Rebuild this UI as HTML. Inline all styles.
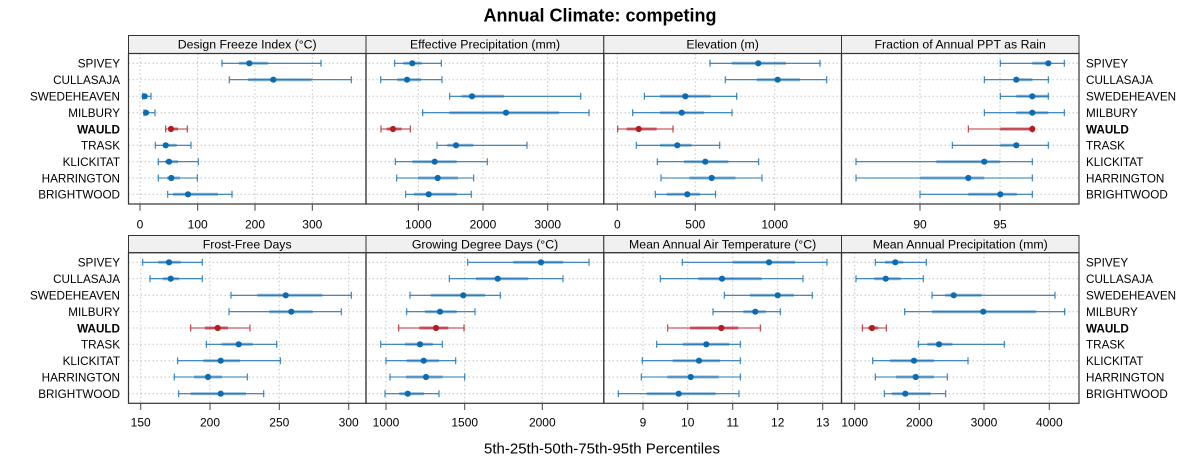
<!DOCTYPE html>
<html>
<head>
<meta charset="utf-8">
<style>
html,body{margin:0;padding:0;background:#fff;}
svg{display:block;font-family:"Liberation Sans",Arial,sans-serif;}
.w{stroke:#2a7bb9;stroke-width:1.1;fill:none;}
.q{stroke:#1a72b4;stroke-width:3;stroke-opacity:.5;fill:none;}
.m{fill:#0c6caf;}
.wr{stroke:#bb3338;stroke-width:1.1;fill:none;}
.qr{stroke:#b2182b;stroke-width:3;stroke-opacity:.6;fill:none;}
.mr{fill:#b21d22;}
.g{stroke:#c4c4c4;stroke-width:1;stroke-dasharray:1.5 2.5;fill:none;}
.tk{stroke:#444;stroke-width:1;}
.lab{font-size:11.7px;fill:#000;}
.tl{font-size:12px;fill:#000;text-anchor:middle;}
.st{font-size:12.3px;fill:#000;text-anchor:middle;}
</style>
</head>
<body>
<svg width="1200" height="475" viewBox="0 0 1200 475" xmlns="http://www.w3.org/2000/svg">
<rect width="1200" height="475" fill="#fff"/>
<text x="600" y="21.5" font-size="18" font-weight="bold" text-anchor="middle">Annual Climate: competing</text>

<!-- grid -->
<g class="g">
<path d="M128.5 63.3H1079M128.5 79.7H1079M128.5 96.3H1079M128.5 112.7H1079M128.5 129H1079M128.5 145.3H1079M128.5 161.7H1079M128.5 178H1079M128.5 194.3H1079"/>
<path d="M140 53.5V204M197.7 53.5V204M255 53.5V204M312.3 53.5V204M418.3 53.5V204M483 53.5V204M547.7 53.5V204M617.3 53.5V204M695.3 53.5V204M774.7 53.5V204M920 53.5V204M1000 53.5V204"/>
<path d="M128.5 262.3H1079M128.5 278.7H1079M128.5 295.3H1079M128.5 311.7H1079M128.5 328H1079M128.5 344.3H1079M128.5 360.7H1079M128.5 377H1079M128.5 393.7H1079"/>
<path d="M140.7 252.7V403.3M210 252.7V403.3M279.3 252.7V403.3M348.7 252.7V403.3M386 252.7V403.3M464.7 252.7V403.3M542.3 252.7V403.3M643 252.7V403.3M687.7 252.7V403.3M732.7 252.7V403.3M777.7 252.7V403.3M822.7 252.7V403.3M854.7 252.7V403.3M919.3 252.7V403.3M984 252.7V403.3M1049.3 252.7V403.3"/>
</g>

<!-- strips -->
<g stroke="#333" stroke-width="1" fill="#f0f0f0">
<rect x="128.5" y="35.5" width="237.5" height="18"/>
<rect x="366" y="35.5" width="237.8" height="18"/>
<rect x="603.8" y="35.5" width="237.7" height="18"/>
<rect x="841.5" y="35.5" width="237.5" height="18"/>
<rect x="128.5" y="235.5" width="237.5" height="17.2"/>
<rect x="366" y="235.5" width="237.8" height="17.2"/>
<rect x="603.8" y="235.5" width="237.7" height="17.2"/>
<rect x="841.5" y="235.5" width="237.5" height="17.2"/>
</g>
<g fill="none" stroke="#333" stroke-width="1.2">
<rect x="128.5" y="53.5" width="237.5" height="150.5"/>
<rect x="366" y="53.5" width="237.8" height="150.5"/>
<rect x="603.8" y="53.5" width="237.7" height="150.5"/>
<rect x="841.5" y="53.5" width="237.5" height="150.5"/>
<rect x="128.5" y="252.7" width="237.5" height="150.6"/>
<rect x="366" y="252.7" width="237.8" height="150.6"/>
<rect x="603.8" y="252.7" width="237.7" height="150.6"/>
<rect x="841.5" y="252.7" width="237.5" height="150.6"/>
</g>
<text class="st" x="247.2" y="48.6">Design Freeze Index (°C)</text>
<text class="st" x="485" y="48.6">Effective Precipitation (mm)</text>
<text class="st" x="722.6" y="48.6">Elevation (m)</text>
<text class="st" x="960.2" y="48.6">Fraction of Annual PPT as Rain</text>
<text class="st" x="247.2" y="248.3">Frost-Free Days</text>
<text class="st" x="485" y="248.3">Growing Degree Days (°C)</text>
<text class="st" x="722.6" y="248.3">Mean Annual Air Temperature (°C)</text>
<text class="st" x="960.2" y="248.3">Mean Annual Precipitation (mm)</text>

<!-- ticks -->
<path class="tk" d="M140 204V210.7M197.7 204V210.7M255 204V210.7M312.3 204V210.7M418.3 204V210.7M483 204V210.7M547.7 204V210.7M617.3 204V210.7M695.3 204V210.7M774.7 204V210.7M920 204V210.7M1000 204V210.7"/>
<path class="tk" d="M140.7 403.3V410M210 403.3V410M279.3 403.3V410M348.7 403.3V410M386 403.3V410M464.7 403.3V410M542.3 403.3V410M643 403.3V410M687.7 403.3V410M732.7 403.3V410M777.7 403.3V410M822.7 403.3V410M854.7 403.3V410M919.3 403.3V410M984 403.3V410M1049.3 403.3V410"/>
<g class="tl">
<text x="140" y="228.3">0</text><text x="197.7" y="228.3">100</text><text x="255" y="228.3">200</text><text x="312.3" y="228.3">300</text>
<text x="418.3" y="228.3">1000</text><text x="483" y="228.3">2000</text><text x="547.7" y="228.3">3000</text>
<text x="617.3" y="228.3">0</text><text x="695.3" y="228.3">500</text><text x="774.7" y="228.3">1000</text>
<text x="920" y="228.3">90</text><text x="1000" y="228.3">95</text>
<text x="140.7" y="426.5">150</text><text x="210" y="426.5">200</text><text x="279.3" y="426.5">250</text><text x="348.7" y="426.5">300</text>
<text x="386" y="426.5">1000</text><text x="464.7" y="426.5">1500</text><text x="542.3" y="426.5">2000</text>
<text x="643" y="426.5">9</text><text x="687.7" y="426.5">10</text><text x="732.7" y="426.5">11</text><text x="777.7" y="426.5">12</text><text x="822.7" y="426.5">13</text>
<text x="854.7" y="426.5">1000</text><text x="919.3" y="426.5">2000</text><text x="984" y="426.5">3000</text><text x="1049.3" y="426.5">4000</text>
</g>

<!-- row labels -->
<g class="lab" text-anchor="end">
<text x="120" y="67.6">SPIVEY</text><text x="120" y="84">CULLASAJA</text><text x="120" y="100.6">SWEDEHEAVEN</text><text x="120" y="117">MILBURY</text><text x="120" y="133.3" font-weight="bold">WAULD</text><text x="120" y="149.6">TRASK</text><text x="120" y="166">KLICKITAT</text><text x="120" y="182.3">HARRINGTON</text><text x="120" y="198.6">BRIGHTWOOD</text>
<text x="120" y="266.6">SPIVEY</text><text x="120" y="283">CULLASAJA</text><text x="120" y="299.6">SWEDEHEAVEN</text><text x="120" y="316">MILBURY</text><text x="120" y="332.3" font-weight="bold">WAULD</text><text x="120" y="348.6">TRASK</text><text x="120" y="365">KLICKITAT</text><text x="120" y="381.3">HARRINGTON</text><text x="120" y="398">BRIGHTWOOD</text>
</g>
<g class="lab" text-anchor="start">
<text x="1086" y="67.6">SPIVEY</text><text x="1086" y="84">CULLASAJA</text><text x="1086" y="100.6">SWEDEHEAVEN</text><text x="1086" y="117">MILBURY</text><text x="1086" y="133.3" font-weight="bold">WAULD</text><text x="1086" y="149.6">TRASK</text><text x="1086" y="166">KLICKITAT</text><text x="1086" y="182.3">HARRINGTON</text><text x="1086" y="198.6">BRIGHTWOOD</text>
<text x="1086" y="266.6">SPIVEY</text><text x="1086" y="283">CULLASAJA</text><text x="1086" y="299.6">SWEDEHEAVEN</text><text x="1086" y="316">MILBURY</text><text x="1086" y="332.3" font-weight="bold">WAULD</text><text x="1086" y="348.6">TRASK</text><text x="1086" y="365">KLICKITAT</text><text x="1086" y="381.3">HARRINGTON</text><text x="1086" y="398">BRIGHTWOOD</text>
</g>

<!-- TOP ROW BARS -->
<g transform="translate(0,63.3)">
<path class="w" d="M222 0H321M222-3.5V3.5M321-3.5V3.5"/><path class="q" d="M239 0H268"/><circle class="m" cx="249.3" r="3.1"/>
<path class="w" d="M394.7 0H441.3M394.7-3.5V3.5M441.3-3.5V3.5"/><path class="q" d="M403.3 0H421.7"/><circle class="m" cx="412.3" r="3.1"/>
<path class="w" d="M710 0H820M710-3.5V3.5M820-3.5V3.5"/><path class="q" d="M731.7 0H786"/><circle class="m" cx="758.3" r="3.1"/>
<path class="w" d="M1000.3 0H1064.3M1000.3-3.5V3.5M1064.3-3.5V3.5"/><path class="q" d="M1032.3 0H1048.3"/><circle class="m" cx="1048.3" r="3.1"/>
</g>
<g transform="translate(0,79.7)">
<path class="w" d="M229.3 0H351.3M229.3-3.5V3.5M351.3-3.5V3.5"/><path class="q" d="M248 0H311.7"/><circle class="m" cx="273.3" r="3.1"/>
<path class="w" d="M380.7 0H442M380.7-3.5V3.5M442-3.5V3.5"/><path class="q" d="M397.3 0H421"/><circle class="m" cx="407" r="3.1"/>
<path class="w" d="M725.3 0H826.7M725.3-3.5V3.5M826.7-3.5V3.5"/><path class="q" d="M756.7 0H800"/><circle class="m" cx="777.7" r="3.1"/>
<path class="w" d="M984.3 0H1048.3M984.3-3.5V3.5M1048.3-3.5V3.5"/><path class="q" d="M1016.3 0H1032.3"/><circle class="m" cx="1016.3" r="3.1"/>
</g>
<g transform="translate(0,96.3)">
<path class="w" d="M142.7 0H151M142.7-3.5V3.5M151-3.5V3.5"/><path class="q" d="M143.5 0H147"/><circle class="m" cx="144.7" r="3.1"/>
<path class="w" d="M449.7 0H580.7M449.7-3.5V3.5M580.7-3.5V3.5"/><path class="q" d="M461.7 0H504"/><circle class="m" cx="472" r="3.1"/>
<path class="w" d="M644.3 0H736.7M644.3-3.5V3.5M736.7-3.5V3.5"/><path class="q" d="M660 0H710.7"/><circle class="m" cx="685.3" r="3.1"/>
<path class="w" d="M1000.3 0H1048.3M1000.3-3.5V3.5M1048.3-3.5V3.5"/><path class="q" d="M1016.3 0H1048.3"/><circle class="m" cx="1032.3" r="3.1"/>
</g>
<g transform="translate(0,112.7)">
<path class="w" d="M144 0H155M144-3.5V3.5M155-3.5V3.5"/><path class="q" d="M144.5 0H149"/><circle class="m" cx="146" r="3.1"/>
<path class="w" d="M422.7 0H589M422.7-3.5V3.5M589-3.5V3.5"/><path class="q" d="M449.3 0H559"/><circle class="m" cx="506" r="3.1"/>
<path class="w" d="M632.7 0H732M632.7-3.5V3.5M732-3.5V3.5"/><path class="q" d="M660 0H704"/><circle class="m" cx="681.7" r="3.1"/>
<path class="w" d="M984.3 0H1064.3M984.3-3.5V3.5M1064.3-3.5V3.5"/><path class="q" d="M1016.3 0H1048.3"/><circle class="m" cx="1032.3" r="3.1"/>
</g>
<g transform="translate(0,129)">
<path class="wr" d="M165.7 0H187.3M165.7-3.5V3.5M187.3-3.5V3.5"/><path class="qr" d="M168 0H178"/><circle class="mr" cx="171" r="3.1"/>
<path class="wr" d="M381 0H410.3M381-3.5V3.5M410.3-3.5V3.5"/><path class="qr" d="M386.7 0H401.7"/><circle class="mr" cx="393" r="3.1"/>
<path class="wr" d="M617.7 0H673M617.7-3.5V3.5M673-3.5V3.5"/><path class="qr" d="M626.7 0H656.7"/><circle class="mr" cx="638.7" r="3.1"/>
<path class="wr" d="M968.3 0H1032.3M968.3-3.5V3.5M1032.3-3.5V3.5"/><path class="qr" d="M1000.3 0H1032.3"/><circle class="mr" cx="1032.3" r="3.1"/>
</g>
<g transform="translate(0,145.3)">
<path class="w" d="M155.3 0H191M155.3-3.5V3.5M191-3.5V3.5"/><path class="q" d="M163.3 0H176.7"/><circle class="m" cx="165.7" r="3.1"/>
<path class="w" d="M437 0H527M437-3.5V3.5M527-3.5V3.5"/><path class="q" d="M447.3 0H473.3"/><circle class="m" cx="456" r="3.1"/>
<path class="w" d="M636.3 0H719.7M636.3-3.5V3.5M719.7-3.5V3.5"/><path class="q" d="M660 0H691.7"/><circle class="m" cx="677.3" r="3.1"/>
<path class="w" d="M952.3 0H1048.3M952.3-3.5V3.5M1048.3-3.5V3.5"/><path class="q" d="M1000.3 0H1016.3"/><circle class="m" cx="1016.3" r="3.1"/>
</g>
<g transform="translate(0,161.7)">
<path class="w" d="M158.3 0H198.3M158.3-3.5V3.5M198.3-3.5V3.5"/><path class="q" d="M165 0H178"/><circle class="m" cx="169" r="3.1"/>
<path class="w" d="M395.3 0H487.3M395.3-3.5V3.5M487.3-3.5V3.5"/><path class="q" d="M412.3 0H456.7"/><circle class="m" cx="434.7" r="3.1"/>
<path class="w" d="M657.3 0H758.7M657.3-3.5V3.5M758.7-3.5V3.5"/><path class="q" d="M684 0H728.3"/><circle class="m" cx="705.3" r="3.1"/>
<path class="w" d="M856 0H1032.3M856-3.5V3.5M1032.3-3.5V3.5"/><path class="q" d="M936.3 0H1000.3"/><circle class="m" cx="984.3" r="3.1"/>
</g>
<g transform="translate(0,178)">
<path class="w" d="M158.3 0H197.3M158.3-3.5V3.5M197.3-3.5V3.5"/><path class="q" d="M167 0H180"/><circle class="m" cx="171.3" r="3.1"/>
<path class="w" d="M396.7 0H473.7M396.7-3.5V3.5M473.7-3.5V3.5"/><path class="q" d="M418 0H458"/><circle class="m" cx="437.7" r="3.1"/>
<path class="w" d="M661 0H762M661-3.5V3.5M762-3.5V3.5"/><path class="q" d="M689.3 0H735.5"/><circle class="m" cx="711.7" r="3.1"/>
<path class="w" d="M856 0H1032.3M856-3.5V3.5M1032.3-3.5V3.5"/><path class="q" d="M920 0H984.3"/><circle class="m" cx="968.3" r="3.1"/>
</g>
<g transform="translate(0,194.3)">
<path class="w" d="M167.7 0H232M167.7-3.5V3.5M232-3.5V3.5"/><path class="q" d="M173 0H218"/><circle class="m" cx="188" r="3.1"/>
<path class="w" d="M405.7 0H471.3M405.7-3.5V3.5M471.3-3.5V3.5"/><path class="q" d="M414 0H456.7"/><circle class="m" cx="428.7" r="3.1"/>
<path class="w" d="M655.3 0H715.5M655.3-3.5V3.5M715.5-3.5V3.5"/><path class="q" d="M666.7 0H700"/><circle class="m" cx="687.3" r="3.1"/>
<path class="w" d="M920 0H1032.3M920-3.5V3.5M1032.3-3.5V3.5"/><path class="q" d="M968.3 0H1016.7"/><circle class="m" cx="1000.3" r="3.1"/>
</g>

<!-- BOTTOM ROW BARS -->
<g transform="translate(0,262.3)">
<path class="w" d="M142.7 0H202.3M142.7-3.5V3.5M202.3-3.5V3.5"/><path class="q" d="M158.3 0H180.7"/><circle class="m" cx="169" r="3.1"/>
<path class="w" d="M467.7 0H589M467.7-3.5V3.5M589-3.5V3.5"/><path class="q" d="M513.3 0H563.3"/><circle class="m" cx="541" r="3.1"/>
<path class="w" d="M682.3 0H827M682.3-3.5V3.5M827-3.5V3.5"/><path class="q" d="M732.7 0H795"/><circle class="m" cx="769" r="3.1"/>
<path class="w" d="M875.3 0H926.3M875.3-3.5V3.5M926.3-3.5V3.5"/><path class="q" d="M885 0H903.3"/><circle class="m" cx="895.3" r="3.1"/>
</g>
<g transform="translate(0,278.7)">
<path class="w" d="M150 0H202.3M150-3.5V3.5M202.3-3.5V3.5"/><path class="q" d="M162.7 0H179.3"/><circle class="m" cx="170.7" r="3.1"/>
<path class="w" d="M449.3 0H563M449.3-3.5V3.5M563-3.5V3.5"/><path class="q" d="M476 0H528.3"/><circle class="m" cx="497.7" r="3.1"/>
<path class="w" d="M660.3 0H803M660.3-3.5V3.5M803-3.5V3.5"/><path class="q" d="M698.3 0H761.7"/><circle class="m" cx="722" r="3.1"/>
<path class="w" d="M856 0H923.3M856-3.5V3.5M923.3-3.5V3.5"/><path class="q" d="M874.3 0H900.7"/><circle class="m" cx="885.7" r="3.1"/>
</g>
<g transform="translate(0,295.3)">
<path class="w" d="M231 0H351.3M231-3.5V3.5M351.3-3.5V3.5"/><path class="q" d="M257.3 0H322.3"/><circle class="m" cx="285.7" r="3.1"/>
<path class="w" d="M410 0H500.3M410-3.5V3.5M500.3-3.5V3.5"/><path class="q" d="M430.7 0H485"/><circle class="m" cx="463.3" r="3.1"/>
<path class="w" d="M724.3 0H812.3M724.3-3.5V3.5M812.3-3.5V3.5"/><path class="q" d="M750 0H794"/><circle class="m" cx="777.7" r="3.1"/>
<path class="w" d="M932 0H1055M932-3.5V3.5M1055-3.5V3.5"/><path class="q" d="M945.3 0H981.7"/><circle class="m" cx="953.7" r="3.1"/>
</g>
<g transform="translate(0,311.7)">
<path class="w" d="M229 0H341.3M229-3.5V3.5M341.3-3.5V3.5"/><path class="q" d="M269.3 0H312.7"/><circle class="m" cx="291.3" r="3.1"/>
<path class="w" d="M406.7 0H475M406.7-3.5V3.5M475-3.5V3.5"/><path class="q" d="M425 0H456.7"/><circle class="m" cx="440" r="3.1"/>
<path class="w" d="M713 0H780.3M713-3.5V3.5M780.3-3.5V3.5"/><path class="q" d="M743.3 0H765.7"/><circle class="m" cx="755.3" r="3.1"/>
<path class="w" d="M904.7 0H1064.7M904.7-3.5V3.5M1064.7-3.5V3.5"/><path class="q" d="M932 0H1036"/><circle class="m" cx="983.3" r="3.1"/>
</g>
<g transform="translate(0,328)">
<path class="wr" d="M190.7 0H250M190.7-3.5V3.5M250-3.5V3.5"/><path class="qr" d="M205 0H228"/><circle class="mr" cx="217.7" r="3.1"/>
<path class="wr" d="M398.7 0H464M398.7-3.5V3.5M464-3.5V3.5"/><path class="qr" d="M419.3 0H448.3"/><circle class="mr" cx="436" r="3.1"/>
<path class="wr" d="M667.7 0H760.3M667.7-3.5V3.5M760.3-3.5V3.5"/><path class="qr" d="M690 0H738.3"/><circle class="mr" cx="721.3" r="3.1"/>
<path class="wr" d="M862.3 0H886.3M862.3-3.5V3.5M886.3-3.5V3.5"/><path class="qr" d="M868.3 0H878.3"/><circle class="mr" cx="872" r="3.1"/>
</g>
<g transform="translate(0,344.3)">
<path class="w" d="M206.3 0H276.7M206.3-3.5V3.5M276.7-3.5V3.5"/><path class="q" d="M221.7 0H252.7"/><circle class="m" cx="238.7" r="3.1"/>
<path class="w" d="M380.7 0H442.3M380.7-3.5V3.5M442.3-3.5V3.5"/><path class="q" d="M405 0H432.7"/><circle class="m" cx="420" r="3.1"/>
<path class="w" d="M656.7 0H740.3M656.7-3.5V3.5M740.3-3.5V3.5"/><path class="q" d="M682.7 0H729.3"/><circle class="m" cx="706.3" r="3.1"/>
<path class="w" d="M918.3 0H1004.3M918.3-3.5V3.5M1004.3-3.5V3.5"/><path class="q" d="M927.3 0H952.3"/><circle class="m" cx="939" r="3.1"/>
</g>
<g transform="translate(0,360.7)">
<path class="w" d="M177.7 0H280.3M177.7-3.5V3.5M280.3-3.5V3.5"/><path class="q" d="M203.3 0H240"/><circle class="m" cx="220.7" r="3.1"/>
<path class="w" d="M386 0H455.7M386-3.5V3.5M455.7-3.5V3.5"/><path class="q" d="M406.7 0H439"/><circle class="m" cx="423.7" r="3.1"/>
<path class="w" d="M642.3 0H740.3M642.3-3.5V3.5M740.3-3.5V3.5"/><path class="q" d="M672.7 0H720"/><circle class="m" cx="699" r="3.1"/>
<path class="w" d="M872.7 0H968M872.7-3.5V3.5M968-3.5V3.5"/><path class="q" d="M890 0H934"/><circle class="m" cx="914" r="3.1"/>
</g>
<g transform="translate(0,377)">
<path class="w" d="M174.3 0H247.3M174.3-3.5V3.5M247.3-3.5V3.5"/><path class="q" d="M194 0H222"/><circle class="m" cx="208" r="3.1"/>
<path class="w" d="M390 0H464.7M390-3.5V3.5M464.7-3.5V3.5"/><path class="q" d="M406 0H442.7"/><circle class="m" cx="426" r="3.1"/>
<path class="w" d="M641.3 0H740.3M641.3-3.5V3.5M740.3-3.5V3.5"/><path class="q" d="M667.3 0H718.7"/><circle class="m" cx="690.7" r="3.1"/>
<path class="w" d="M875.3 0H947.3M875.3-3.5V3.5M947.3-3.5V3.5"/><path class="q" d="M896 0H934"/><circle class="m" cx="915.7" r="3.1"/>
</g>
<g transform="translate(0,393.7)">
<path class="w" d="M178.7 0H263.7M178.7-3.5V3.5M263.7-3.5V3.5"/><path class="q" d="M190.7 0H246"/><circle class="m" cx="220.7" r="3.1"/>
<path class="w" d="M385 0H439M385-3.5V3.5M439-3.5V3.5"/><path class="q" d="M399.3 0H424"/><circle class="m" cx="407.7" r="3.1"/>
<path class="w" d="M618.3 0H739M618.3-3.5V3.5M739-3.5V3.5"/><path class="q" d="M646.7 0H715.7"/><circle class="m" cx="678.7" r="3.1"/>
<path class="w" d="M884.3 0H945.7M884.3-3.5V3.5M945.7-3.5V3.5"/><path class="q" d="M891.7 0H930.7"/><circle class="m" cx="905.3" r="3.1"/>
</g>

<text x="602" y="453.3" font-size="15" text-anchor="middle">5th-25th-50th-75th-95th Percentiles</text>
</svg>
</body>
</html>
